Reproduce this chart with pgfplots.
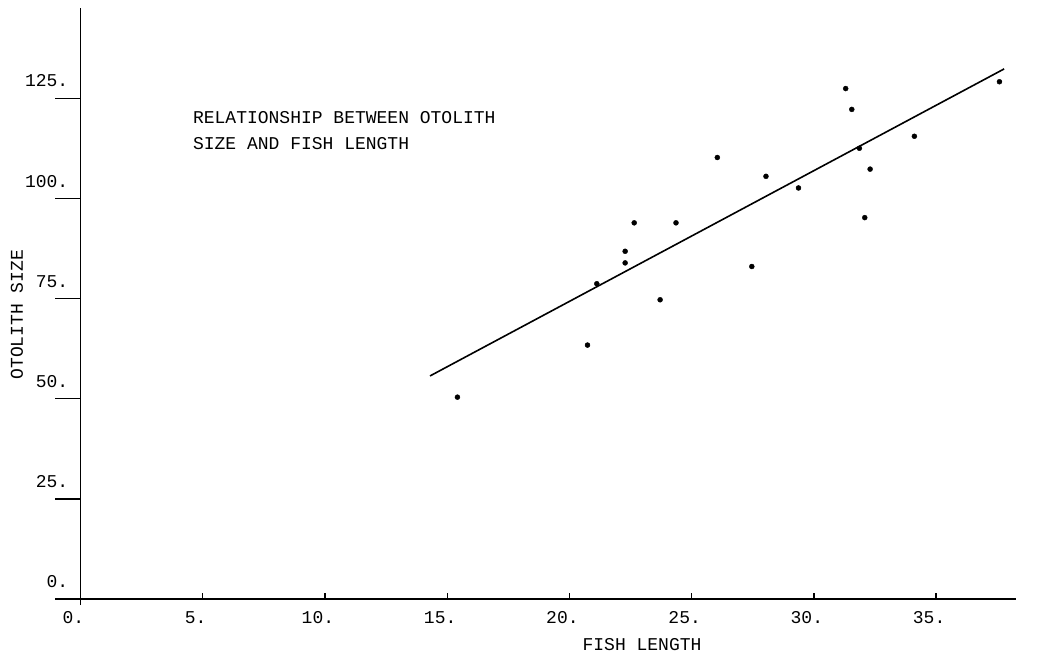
\documentclass[border=0pt]{standalone}
\usepackage{pgfplots}
\pgfplotsset{compat=1.18}
\usepackage{fontspec}
\setmainfont{Liberation Mono}
\begin{document}
\fontsize{18}{20}\selectfont
\begin{tikzpicture}
\begin{axis}[
  x=24.45pt, y=4.008pt,
  xmin=0, xmax=38.25, ymin=0, ymax=147.5,
  axis x line=bottom, axis y line=left,
  axis line style={line width=1.6pt, -},
  x axis line style={shorten <=-25pt},
  y axis line style={shorten <=-6pt},
  clip=false,
  tick align=outside,
  major tick length=25pt,
  xtick={0,5,10,15,20,25,30,35},
  xticklabels={0.,5.,10.,15.,20.,25.,30.,35.},
  ytick={0,25,50,75,100,125},
  yticklabels={0.,25.,50.,75.,100.,125.},
  xtick style={draw=none},
  ytick style={line width=1.2pt, black},
  xticklabel style={anchor=north, xshift=-7pt, yshift=19pt},
  yticklabel style={anchor=south east, xshift=19pt, yshift=5pt},
  every axis y label/.style={at={(axis cs:-2.6,71)}, rotate=90, anchor=center},
  every axis x label/.style={at={(axis cs:22.97,-11.4)}, anchor=center},
  ylabel={OTOLITH SIZE},
  xlabel={FISH LENGTH},
  unbounded coords=jump,
]
% x tick marks (inside, short)
\addplot[no marks, line width=1.3pt, black] coordinates {
(5,0) (5,1.6) (5,nan)
(10,0) (10,1.6) (10,nan)
(15,0) (15,1.6) (15,nan)
(20,0) (20,1.6) (20,nan)
(25,0) (25,1.6) (25,nan)
(30,0) (30,1.6) (30,nan)
(35,0) (35,1.6)};
% fitted line
\addplot[no marks, line width=1.6pt, black] coordinates {(14.3,55.7) (37.78,132.3)};
% data points
\addplot[only marks, mark=*, mark size=2.5pt, black] coordinates {
(15.42,50.4) (20.74,63.4) (21.12,78.7) (22.28,83.9) (22.28,86.8)
(22.65,93.9) (23.71,74.7) (24.36,93.9) (26.05,110.2) (27.46,83.0)
(28.04,105.5) (29.37,102.6) (31.30,127.4) (31.55,122.2) (31.86,112.5)
(32.08,95.2) (32.30,107.3) (34.11,115.5) (37.59,129.1)
};
\node[anchor=west, inner sep=0pt] at (axis cs:4.6,120.1) {RELATIONSHIP BETWEEN OTOLITH};
\node[anchor=west, inner sep=0pt] at (axis cs:4.6,113.8) {SIZE AND FISH LENGTH};
\coordinate (bl) at (axis cs:-3.29,-16.64);
\coordinate (tr) at (axis cs:39.33,149.5);
\end{axis}
\pgfresetboundingbox
\path[use as bounding box] (bl) rectangle (tr);
\end{tikzpicture}
\end{document}
